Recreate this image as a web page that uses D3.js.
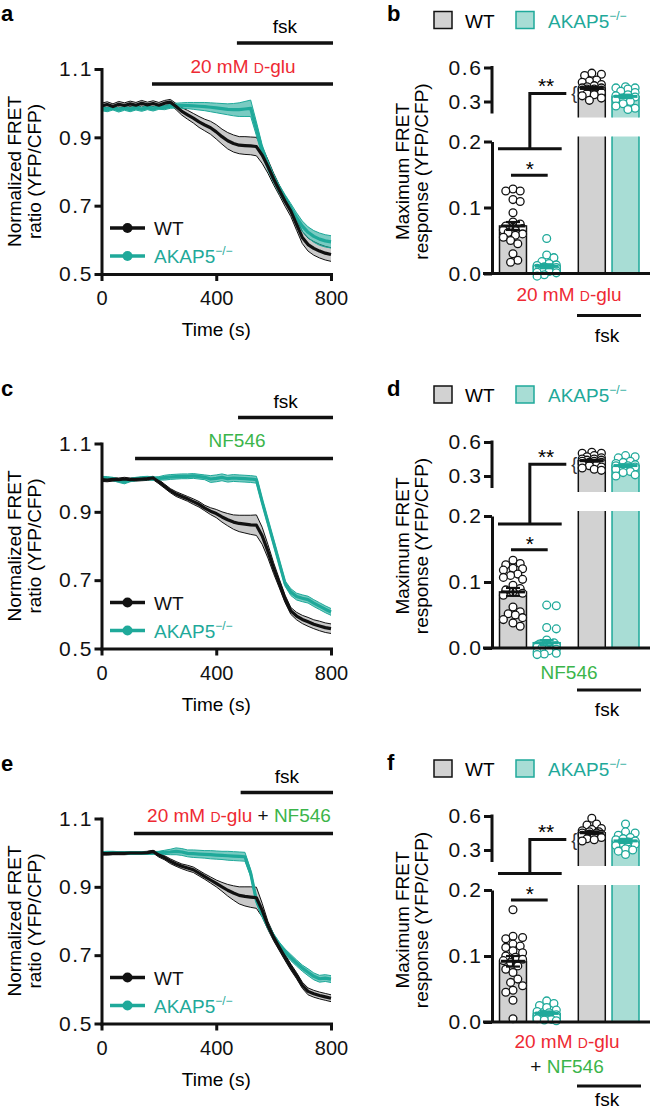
<!DOCTYPE html>
<html><head><meta charset="utf-8">
<script src="https://cdn.jsdelivr.net/npm/d3@7"></script>
<style>body{margin:0;background:#fff}svg{display:block}text{font-family:"Liberation Sans",Arial,Helvetica,sans-serif}</style>
</head><body>
<script>
// ---------- DATA ----------
const times = [0,20,40,60,80,100,120,140,160,180,200,220,240,260,280,300,320,340,360,380,400,420,440,460,480,500,520,540,560,580,600,620,640,660,680,700,720,740,760,780,800];
const timeTicks = [0,400,800];
const ratioTicks = [0.5,0.7,0.9,1.1];

const wtMeanA = [0.992,0.996,0.990,0.997,0.993,0.998,0.994,1.000,0.995,0.999,0.994,1.000,1.003,0.990,0.976,0.966,0.956,0.945,0.936,0.928,0.916,0.902,0.890,0.882,0.877,0.876,0.875,0.873,0.848,0.815,0.778,0.745,0.713,0.684,0.645,0.607,0.586,0.575,0.567,0.561,0.557];
const wtSemA  = [0.008,0.008,0.008,0.008,0.008,0.008,0.008,0.008,0.008,0.008,0.008,0.008,0.008,0.009,0.011,0.013,0.014,0.016,0.017,0.019,0.021,0.022,0.024,0.025,0.025,0.026,0.026,0.027,0.024,0.020,0.017,0.015,0.015,0.016,0.017,0.018,0.019,0.020,0.020,0.020,0.020];
const akMeanA = [0.984,0.981,0.986,0.980,0.985,0.981,0.986,0.982,0.987,0.983,0.988,0.987,0.991,0.993,0.993,0.993,0.992,0.991,0.990,0.988,0.986,0.984,0.982,0.981,0.981,0.983,0.985,0.925,0.862,0.818,0.780,0.748,0.720,0.693,0.665,0.640,0.622,0.610,0.602,0.597,0.594];
const akSemA  = [0.006,0.006,0.006,0.006,0.006,0.006,0.006,0.006,0.006,0.006,0.006,0.006,0.006,0.007,0.008,0.009,0.010,0.011,0.012,0.013,0.014,0.015,0.016,0.018,0.020,0.022,0.024,0.020,0.016,0.014,0.012,0.012,0.012,0.013,0.014,0.015,0.016,0.017,0.018,0.018,0.018];

const wtMeanC = [0.994,0.993,0.995,0.994,0.996,0.994,0.995,0.996,0.997,0.999,0.988,0.975,0.962,0.952,0.945,0.938,0.930,0.922,0.911,0.902,0.895,0.885,0.877,0.870,0.866,0.864,0.862,0.861,0.830,0.785,0.735,0.690,0.645,0.610,0.595,0.585,0.578,0.571,0.566,0.561,0.558];
const wtSemC  = [0.005,0.005,0.005,0.005,0.005,0.005,0.005,0.005,0.005,0.005,0.006,0.006,0.006,0.007,0.007,0.007,0.008,0.008,0.008,0.010,0.012,0.015,0.018,0.021,0.024,0.026,0.028,0.030,0.025,0.020,0.016,0.013,0.011,0.010,0.011,0.012,0.013,0.013,0.014,0.014,0.014];
const akMeanC = [0.999,0.998,0.996,0.991,0.987,0.993,0.996,0.998,0.999,0.997,0.998,1.000,1.002,1.003,1.004,1.004,1.005,1.003,1.001,0.996,0.998,1.001,0.997,0.999,0.998,0.997,0.996,0.994,0.930,0.870,0.810,0.750,0.690,0.665,0.652,0.647,0.643,0.633,0.624,0.615,0.607];
const akSemC  = [0.005,0.005,0.005,0.005,0.005,0.005,0.005,0.005,0.005,0.005,0.005,0.007,0.007,0.007,0.007,0.007,0.007,0.007,0.007,0.010,0.010,0.010,0.010,0.010,0.010,0.010,0.010,0.010,0.008,0.008,0.008,0.008,0.008,0.010,0.010,0.010,0.010,0.010,0.010,0.010,0.010];

const wtMeanE = [0.997,0.997,0.998,0.998,0.998,0.999,0.999,0.999,1.000,1.003,0.993,0.985,0.975,0.967,0.960,0.955,0.950,0.940,0.930,0.920,0.910,0.900,0.890,0.882,0.875,0.872,0.870,0.868,0.832,0.787,0.752,0.722,0.693,0.665,0.640,0.612,0.594,0.587,0.582,0.578,0.574];
const wtSemE  = [0.004,0.004,0.004,0.004,0.004,0.004,0.004,0.004,0.004,0.004,0.006,0.006,0.007,0.007,0.007,0.008,0.008,0.008,0.008,0.009,0.010,0.013,0.017,0.021,0.025,0.028,0.030,0.031,0.020,0.012,0.010,0.009,0.009,0.009,0.009,0.009,0.010,0.010,0.010,0.010,0.010];
const akMeanE = [0.999,1.000,1.000,0.999,0.999,0.999,0.999,0.999,0.999,0.999,1.000,1.001,1.002,1.004,1.002,0.998,0.997,0.996,0.995,0.994,0.993,0.992,0.991,0.990,0.989,0.988,0.940,0.860,0.820,0.785,0.755,0.730,0.710,0.693,0.677,0.662,0.650,0.638,0.631,0.633,0.630];
const akSemE  = [0.004,0.004,0.004,0.004,0.004,0.004,0.004,0.004,0.004,0.004,0.004,0.006,0.008,0.010,0.010,0.010,0.011,0.011,0.011,0.012,0.012,0.012,0.013,0.013,0.013,0.013,0.010,0.009,0.008,0.008,0.008,0.008,0.008,0.009,0.009,0.009,0.010,0.010,0.010,0.010,0.010];

// stimulus periods (s)
const drugStart = [176,117,113];
const fskStart  = [472,476,485];
const stimEnd = 807;

// bar panels
const groups = ["drug","fsk"];
const genotypes = ["WT","AKAP5"];
const lowerTicks = [0,0.1,0.2];
const upperTicks = [0.3,0.6];

const meansB = [0.072,0.011,0.415,0.345];
const semB   = [0.006,0.003,0.012,0.015];
const ptsB_wt1 = [0.128,0.125,0.125,0.112,0.109,0.092,0.078,0.075,0.072,0.070,0.068,0.066,0.065,0.062,0.060,0.058,0.055,0.050,0.045,0.030,0.020,0.017];
const ptsB_ak1 = [0.053,0.028,0.024,0.018,0.015,0.013,0.012,0.010,0.009,0.008,0.006,0.005,0.004,0.003,0.002,0.001,-0.002,-0.004];
const ptsB_wt2 = [0.55,0.54,0.53,0.49,0.48,0.47,0.45,0.44,0.43,0.42,0.42,0.41,0.41,0.40,0.40,0.39,0.38,0.37,0.36,0.35,0.33,0.31];
const ptsB_ak2 = [0.43,0.42,0.42,0.41,0.39,0.38,0.36,0.35,0.34,0.33,0.32,0.30,0.28,0.26,0.24,0.23];

const meansD = [0.085,0.008,0.435,0.392];
const semD   = [0.006,0.004,0.008,0.012];
const ptsD_wt1 = [0.133,0.128,0.126,0.121,0.120,0.118,0.112,0.110,0.107,0.104,0.095,0.090,0.088,0.085,0.083,0.080,0.062,0.055,0.052,0.050,0.046,0.043,0.038,0.033];
const ptsD_ak1 = [0.065,0.064,0.031,0.029,0.012,0.008,0.006,0.005,0.003,0.002,0.001,0.000,-0.002,-0.004,-0.006,-0.008,-0.009,-0.010];
const ptsD_wt2 = [0.51,0.50,0.50,0.48,0.47,0.46,0.45,0.45,0.44,0.44,0.43,0.43,0.42,0.42,0.41,0.40,0.39,0.38,0.37,0.36,0.35];
const ptsD_ak2 = [0.48,0.47,0.46,0.43,0.42,0.41,0.40,0.39,0.39,0.38,0.37,0.36,0.34,0.33,0.31,0.30];

const meansF = [0.092,0.013,0.452,0.380];
const semF   = [0.008,0.003,0.012,0.018];
const ptsF_wt1 = [0.170,0.130,0.128,0.126,0.118,0.115,0.113,0.108,0.105,0.100,0.098,0.095,0.093,0.090,0.085,0.080,0.075,0.065,0.060,0.055,0.048,0.045,0.033,0.005];
const ptsF_ak1 = [0.032,0.028,0.025,0.022,0.018,0.016,0.014,0.012,0.011,0.010,0.009,0.008,0.006,0.005,0.004,0.003,0.002];
const ptsF_wt2 = [0.58,0.53,0.52,0.49,0.48,0.47,0.46,0.46,0.45,0.45,0.44,0.44,0.43,0.42,0.41,0.40,0.39,0.38];
const ptsF_ak2 = [0.53,0.46,0.45,0.43,0.41,0.40,0.39,0.38,0.37,0.36,0.35,0.34,0.31,0.30,0.29,0.26];

// significance bracket levels (values)
const starLevel = [0.149,0.149,0.185];
const bracketLow = [0.189,0.188,0.225];
const bracketHigh = [0.371,0.403,0.392];

// ---------- STYLE ----------
const BLACK = "#111";
const TEAL = "#1fa99a";
const TEAL_FILL = "#a8ddd5";
const GRAY_FILL = "#d2d2d2";
const RED = "#ee2a33";
const GREEN = "#3bb54a";
const FS = 19;

const svg = d3.select("body").append("svg").attr("width",651).attr("height",1110);
svg.append("rect").attr("width",651).attr("height",1110).attr("fill","#fff");

function styleAxis(g, fs, ls){
  g.selectAll("path.domain").attr("stroke",BLACK).attr("stroke-width",3).attr("stroke-linecap","square");
  g.selectAll(".tick line").attr("stroke",BLACK).attr("stroke-width",3);
  g.selectAll(".tick text").attr("font-size",fs).attr("fill",BLACK).attr("letter-spacing",ls)
    .attr("font-family",'"Liberation Sans",Arial,sans-serif');
}

function akapLabel(sel, color){
  sel.append("tspan").text("AKAP5").attr("fill",color);
  sel.append("tspan").text("\u2212/\u2212").attr("font-size",12).attr("dy",-8).attr("fill",color);
}
function dgluLabel(sel){
  sel.append("tspan").text("20 mM ").attr("fill",RED);
  sel.append("tspan").text("D").attr("font-size",14).attr("fill",RED);
  sel.append("tspan").text("-glu").attr("fill",RED);
}

// ---------- TIME PANELS ----------
const timeSeries = [
  {wm:wtMeanA, ws:wtSemA, am:akMeanA, as:akSemA},
  {wm:wtMeanC, ws:wtSemC, am:akMeanC, as:akSemC},
  {wm:wtMeanE, ws:wtSemE, am:akMeanE, as:akSemE}
];
const timeBase = [274, 648.5, 1023.5];
const timeLetters = ["a","c","e"];

timeSeries.forEach((s,pi)=>{
  const base = timeBase[pi];
  const x = d3.scaleLinear().domain([0,800]).range([101.5,331]);
  const y = d3.scaleLinear().domain([0.5,1.1]).range([base, base-205]);
  const g = svg.append("g");

  // panel letter
  g.append("text").attr("x",1).attr("y",base-253).attr("font-size",22).attr("font-weight","bold").text(timeLetters[pi]);

  // stimulus bars
  g.append("line").attr("x1",x(fskStart[pi])).attr("x2",x(stimEnd)).attr("y1",y(1.1)-26).attr("y2",y(1.1)-26)
    .attr("stroke",BLACK).attr("stroke-width",3.5);
  g.append("text").attr("x",(x(fskStart[pi])+x(stimEnd))/2).attr("y",y(1.1)-36).attr("text-anchor","middle")
    .attr("font-size",FS).text("fsk");
  g.append("line").attr("x1",x(drugStart[pi])).attr("x2",x(stimEnd)).attr("y1",y(1.1)+15).attr("y2",y(1.1)+15)
    .attr("stroke",BLACK).attr("stroke-width",3.5);
  const dt = g.append("text").attr("y",y(1.1)+3.5).attr("text-anchor","middle").attr("font-size",FS);
  if(pi===0){ dt.attr("x",243); dgluLabel(dt); }
  else if(pi===1){ dt.attr("x",237).attr("fill",GREEN).text("NF546"); }
  else { dt.attr("x",239); dgluLabel(dt); dt.append("tspan").text(" + ").attr("fill",BLACK); dt.append("tspan").text("NF546").attr("fill",GREEN); }

  // bands
  const area = (m,se)=>d3.area().x((d,i)=>x(times[i])).y0((d,i)=>y(m[i]-se[i])).y1((d,i)=>y(m[i]+se[i]))(times);
  const edge = (m,se,sg)=>d3.line().x((d,i)=>x(times[i])).y((d,i)=>y(m[i]+sg*se[i]))(times);
  const mline = (m)=>d3.line().x((d,i)=>x(times[i])).y((d,i)=>y(m[i]))(times);

  g.append("path").attr("d",area(s.wm,s.ws)).attr("fill","#c9c9c9");
  g.append("path").attr("d",edge(s.wm,s.ws,1)).attr("fill","none").attr("stroke",BLACK).attr("stroke-width",1);
  g.append("path").attr("d",edge(s.wm,s.ws,-1)).attr("fill","none").attr("stroke",BLACK).attr("stroke-width",1);
  g.append("path").attr("d",area(s.am,s.as)).attr("fill",TEAL).attr("fill-opacity",0.6);
  g.append("path").attr("d",edge(s.am,s.as,1)).attr("fill","none").attr("stroke",TEAL).attr("stroke-width",1);
  g.append("path").attr("d",edge(s.am,s.as,-1)).attr("fill","none").attr("stroke",TEAL).attr("stroke-width",1);
  g.append("path").attr("d",mline(s.am)).attr("fill","none").attr("stroke",TEAL).attr("stroke-width",3.2).attr("stroke-linejoin","round");
  g.append("path").attr("d",mline(s.wm)).attr("fill","none").attr("stroke",BLACK).attr("stroke-width",3.2).attr("stroke-linejoin","round");

  // axes
  const ay = g.append("g").attr("transform",`translate(${x(0)},0)`)
    .call(d3.axisLeft(y).tickValues(ratioTicks).tickFormat(d3.format(".1f")).tickSize(7).tickSizeOuter(0).tickPadding(1.5));
  styleAxis(ay, 21, 1.6);
  const ax = g.append("g").attr("transform",`translate(0,${y(0.5)})`)
    .call(d3.axisBottom(x).tickValues(timeTicks).tickFormat(d3.format("d")).tickSize(7).tickSizeOuter(0).tickPadding(10));
  styleAxis(ax, 20, 0);

  // axis titles
  const cy = (y(0.5)+y(1.1))/2;
  g.append("text").attr("transform",`translate(21,${cy}) rotate(-90)`).attr("text-anchor","middle").attr("font-size",FS).text("Normalized FRET");
  g.append("text").attr("transform",`translate(41,${cy}) rotate(-90)`).attr("text-anchor","middle").attr("font-size",FS).text("ratio (YFP/CFP)");
  g.append("text").attr("x",x(400)).attr("y",base+62).attr("text-anchor","middle").attr("font-size",FS).text("Time (s)");

  // legend
  const legY = [base-46, base-18];
  [[BLACK,"WT"],[TEAL,"AK"]].forEach((l,li)=>{
    g.append("line").attr("x1",110).attr("x2",145).attr("y1",legY[li]).attr("y2",legY[li]).attr("stroke",l[0]).attr("stroke-width",3.5);
    g.append("circle").attr("cx",127.5).attr("cy",legY[li]).attr("r",5).attr("fill",l[0]);
    const t = g.append("text").attr("x",154).attr("y",legY[li]+7).attr("font-size",FS);
    if(li===0) t.text("WT").attr("fill",BLACK); else akapLabel(t,TEAL);
  });
});

// ---------- BAR PANELS ----------
const barSets = [
  {means:meansB, sem:semB, pts:[ptsB_wt1,ptsB_ak1,ptsB_wt2,ptsB_ak2]},
  {means:meansD, sem:semD, pts:[ptsD_wt1,ptsD_ak1,ptsD_wt2,ptsD_ak2]},
  {means:meansF, sem:semF, pts:[ptsF_wt1,ptsF_ak1,ptsF_wt2,ptsF_ak2]}
];
const barBase = [273.5, 648, 1022];
const barLetters = ["b","d","f"];

function swarm(vals, scale, r, maxOff){
  const placed=[], out=[];
  const order = vals.map(v=>({v, y:scale(v)})).sort((a,b)=>a.y-b.y);
  const cands=[0];
  for(let k=1;k*2.4<=maxOff;k++){cands.push(k*2.4,-k*2.4);}
  order.forEach(o=>{
    let best=0,bestOv=Infinity;
    for(const dx of cands){
      let ov=0;
      for(const p of placed){const d=Math.hypot(p.dx-dx,p.y-o.y); if(d<2*r-0.6) ov+=(2*r-0.6-d);}
      if(ov===0){best=dx;bestOv=0;break;}
      if(ov<bestOv){bestOv=ov;best=dx;}
    }
    placed.push({dx:best,y:o.y}); out.push({v:o.v,dx:best,y:o.y});
  });
  return out;
}

barSets.forEach((s,pi)=>{
  const base = barBase[pi];
  const g = svg.append("g");
  const lower = d3.scaleLinear().domain([0,0.2]).range([base, base-132]);
  const upper = d3.scaleLinear().domain([0.3,0.6]).range([base-172, base-206]);
  const outer = d3.scaleBand().domain(groups).range([499.5,639]).paddingInner(0.23).paddingOuter(0);
  const inner = d3.scaleBand().domain(genotypes).range([0,outer.bandwidth()]).paddingInner(0.2).paddingOuter(0);
  const axX = 492;

  g.append("text").attr("x",387).attr("y",base-252.5).attr("font-size",22).attr("font-weight","bold").text(barLetters[pi]);

  // legend
  const ly = base-262;
  g.append("rect").attr("x",434).attr("y",ly).attr("width",18).attr("height",17).attr("fill",GRAY_FILL).attr("stroke",BLACK).attr("stroke-width",1.5);
  g.append("text").attr("x",465).attr("y",ly+16).attr("font-size",FS).text("WT");
  g.append("rect").attr("x",516).attr("y",ly).attr("width",18).attr("height",17).attr("fill",TEAL_FILL).attr("stroke",TEAL).attr("stroke-width",1.5);
  akapLabel(g.append("text").attr("x",548).attr("y",ly+16).attr("font-size",FS), TEAL);

  const bars = [];
  groups.forEach((gr,gi)=>genotypes.forEach((ge,ki)=>{
    bars.push({gi,ki,x0:outer(gr)+inner(ge),w:inner.bandwidth(),idx:gi*2+ki});
  }));

  bars.forEach(b=>{
    const wt = b.ki===0;
    const fill = wt?GRAY_FILL:TEAL_FILL, stroke = wt?BLACK:TEAL;
    const x0=b.x0, x1=b.x0+b.w, m=s.means[b.idx];
    if(b.gi===0){
      g.append("rect").attr("x",x0).attr("y",lower(m)).attr("width",b.w).attr("height",base-lower(m))
        .attr("fill",fill).attr("stroke",stroke).attr("stroke-width",1.5);
    } else {
      const lowTop = lower(0.2)-5, upBot = upper(0.3)+16;
      g.append("rect").attr("x",x0).attr("y",lowTop).attr("width",b.w).attr("height",base-lowTop).attr("fill",fill);
      g.append("rect").attr("x",x0).attr("y",upper(m)).attr("width",b.w).attr("height",upBot-upper(m)).attr("fill",fill);
      g.append("path").attr("d",`M${x0},${base}V${lowTop}M${x1},${lowTop}V${base}`).attr("fill","none").attr("stroke",stroke).attr("stroke-width",1.5);
      g.append("path").attr("d",`M${x0},${upBot}V${upper(m)}H${x1}V${upBot}`).attr("fill","none").attr("stroke",stroke).attr("stroke-width",1.5);
    }
    const sc = b.gi===0?lower:upper;
    const cx = x0+b.w/2;
    const pts = swarm(s.pts[b.idx], sc, 4, 11.5);
    g.selectAll(null).data(pts).enter().append("circle")
      .attr("cx",d=>cx+d.dx).attr("cy",d=>d.y).attr("r",3.9)
      .attr("fill","#fff").attr("stroke",stroke).attr("stroke-width",1.3);
    // mean & sem
    g.append("line").attr("x1",x0+1.5).attr("x2",x1-1.5).attr("y1",sc(m)).attr("y2",sc(m)).attr("stroke",stroke).attr("stroke-width",3);
    g.append("line").attr("x1",cx).attr("x2",cx).attr("y1",sc(m-s.sem[b.idx])).attr("y2",sc(m+s.sem[b.idx])).attr("stroke",stroke).attr("stroke-width",2.2);
    [m-s.sem[b.idx], m+s.sem[b.idx]].forEach(v=>{
      g.append("line").attr("x1",cx-7).attr("x2",cx+7).attr("y1",sc(v)).attr("y2",sc(v)).attr("stroke",stroke).attr("stroke-width",2.2);
    });
  });

  // axes
  const aL = g.append("g").attr("transform",`translate(${axX},0)`)
    .call(d3.axisLeft(lower).tickValues(lowerTicks).tickFormat(d3.format(".1f")).tickSize(8).tickSizeOuter(0).tickPadding(1.5));
  styleAxis(aL, 21, 1.6);
  aL.select("path.domain").attr("stroke-linecap","butt");
  const aU = g.append("g").attr("transform",`translate(${axX},0)`)
    .call(d3.axisLeft(upper).tickValues(upperTicks).tickFormat(d3.format(".1f")).tickSize(8).tickSizeOuter(0).tickPadding(1.5));
  styleAxis(aU, 21, 1.6);
  aU.select("path.domain").remove();
  g.append("line").attr("x1",axX).attr("x2",axX).attr("y1",upper(0.6)-1.5).attr("y2",upper(0.3)+12).attr("stroke",BLACK).attr("stroke-width",3);
  g.append("line").attr("x1",483).attr("x2",650).attr("y1",base).attr("y2",base).attr("stroke",BLACK).attr("stroke-width",3);

  // y title
  const cy = base-102;
  g.append("text").attr("transform",`translate(409,${cy}) rotate(-90)`).attr("text-anchor","middle").attr("font-size",FS).text("Maximum FRET");
  g.append("text").attr("transform",`translate(428,${cy}) rotate(-90)`).attr("text-anchor","middle").attr("font-size",FS).text("response (YFP/CFP)");

  // significance
  const b1 = bars[0], b2 = bars[1], b3 = bars[2];
  const c1 = b1.x0+b1.w/2, c2 = b2.x0+b2.w/2;
  const gc = outer("drug")+outer.bandwidth()/2;
  const sy = lower(starLevel[pi]);
  g.append("line").attr("x1",c1-2).attr("x2",c2+1).attr("y1",sy).attr("y2",sy).attr("stroke",BLACK).attr("stroke-width",3);
  g.append("text").attr("x",(c1+c2)/2).attr("y",sy+1).attr("text-anchor","middle").attr("font-size",21).text("*");
  const by = lower(bracketLow[pi]), ty = upper(bracketHigh[pi]);
  g.append("path").attr("d",`M${b1.x0-1.5},${by}H${b2.x0+b2.w+1.5}M${gc},${by}V${ty}H${b3.x0-12}`)
    .attr("fill","none").attr("stroke",BLACK).attr("stroke-width",3);
  g.append("text").attr("x",(gc+b3.x0-12)/2-2).attr("y",ty-0.5).attr("text-anchor","middle").attr("font-size",21).text("**");
  g.append("text").attr("x",b3.x0-1).attr("y",ty+6).attr("text-anchor","end").attr("font-size",18).attr("fill","#333").text("{");

  // treatment labels
  if(pi===0){
    dgluLabel(g.append("text").attr("x",569).attr("y",base+27).attr("text-anchor","middle").attr("font-size",FS));
  } else if(pi===1){
    g.append("text").attr("x",569).attr("y",base+31).attr("text-anchor","middle").attr("font-size",FS).attr("fill",GREEN).text("NF546");
  } else {
    dgluLabel(g.append("text").attr("x",567).attr("y",base+26).attr("text-anchor","middle").attr("font-size",FS));
    const t2 = g.append("text").attr("x",567).attr("y",base+51).attr("text-anchor","middle").attr("font-size",FS);
    t2.append("tspan").text("+ ").attr("fill",BLACK);
    t2.append("tspan").text("NF546").attr("fill",GREEN);
  }
  const fy = pi===2 ? base+64 : base+42;
  g.append("line").attr("x1",577).attr("x2",641).attr("y1",fy).attr("y2",fy).attr("stroke",BLACK).attr("stroke-width",3);
  g.append("text").attr("x",607).attr("y",fy+(pi===2?20:26)).attr("text-anchor","middle").attr("font-size",FS).text("fsk");
});
</script>
</body></html>
